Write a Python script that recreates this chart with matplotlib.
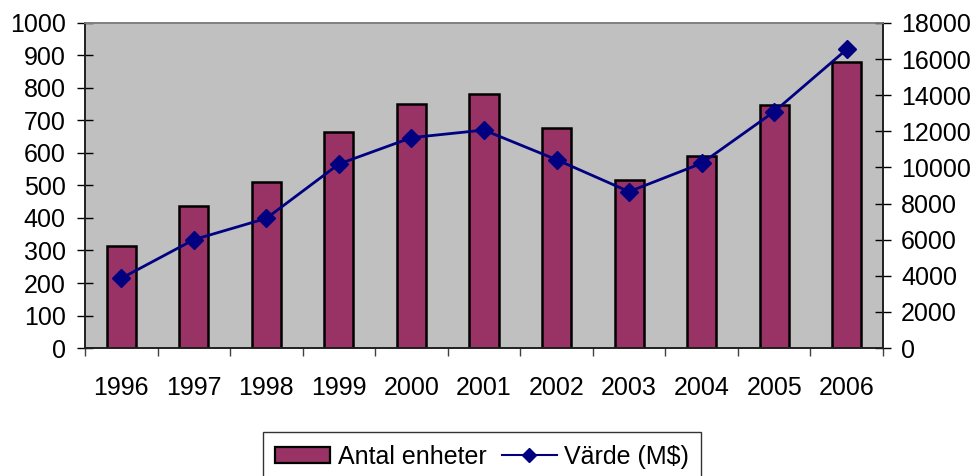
import numpy as np
import matplotlib.pyplot as plt
from matplotlib.lines import Line2D
from matplotlib.patches import Patch

plt.rcParams['font.family'] = ['Liberation Sans', 'DejaVu Sans']

years = ['1996', '1997', '1998', '1999', '2000', '2001',
         '2002', '2003', '2004', '2005', '2006']
antal = [314, 437, 512, 666, 752, 782, 678, 517, 591, 747, 881]
varde = [3860, 6000, 7180, 10190, 11650, 12070, 10430, 8660, 10230, 13090, 16540]

bar_col = '#993366'
line_col = '#000080'

fig = plt.figure(figsize=(9.76, 4.76), dpi=100)
ax = fig.add_axes([0.0871, 0.2689, 0.8176, 0.6828])
ax.set_facecolor('#C0C0C0')

x = np.arange(len(years))
ax.bar(x, antal, width=0.4, color=bar_col, edgecolor='black', linewidth=1.8, zorder=2)
ax.set_xlim(-0.5, len(years) - 0.5)
ax.set_ylim(0, 1000)
ax.set_yticks(np.arange(0, 1001, 100))
ax.set_xticks(x)
ax.set_xticklabels(years)
ax.set_xticks(np.arange(-0.5, len(years), 1), minor=True)
ax.tick_params(axis='x', which='major', length=0, pad=20, labelsize=18)
ax.tick_params(axis='x', which='minor', length=6, width=1, color='#404040', direction='out')
ax.tick_params(axis='y', length=12, width=1, direction='inout', labelsize=18, pad=8)

ax2 = ax.twinx()
ax2.plot(x, varde, color=line_col, lw=2, marker='D', ms=9, zorder=3)
ax2.set_ylim(0, 18000)
ax2.set_yticks(np.arange(0, 18001, 2000))
ax2.tick_params(axis='y', length=12, width=1, direction='inout', labelsize=18, pad=7)

for a in (ax, ax2):
    a.spines['top'].set_color('#808080')
    a.spines['left'].set_color('#202020')
    a.spines['right'].set_color('#202020')
    a.spines['bottom'].set_color('#202020')
    for s in a.spines.values():
        s.set_linewidth(1.2)

handles = [Patch(facecolor=bar_col, edgecolor='black', linewidth=1.6),
           Line2D([], [], color=line_col, lw=1.5, marker='D', ms=7)]
fig.legend(handles, ['Antal enheter', 'Värde (M$)'], loc='upper center',
           bbox_to_anchor=(0.494, 0.0924), borderaxespad=0, ncol=2, fontsize=18,
           frameon=True, fancybox=False, edgecolor='black', handlelength=2.2,
           handleheight=0.6, columnspacing=0.6, handletextpad=0.3, borderpad=0.5)

fig.savefig('out.png', dpi=100)
